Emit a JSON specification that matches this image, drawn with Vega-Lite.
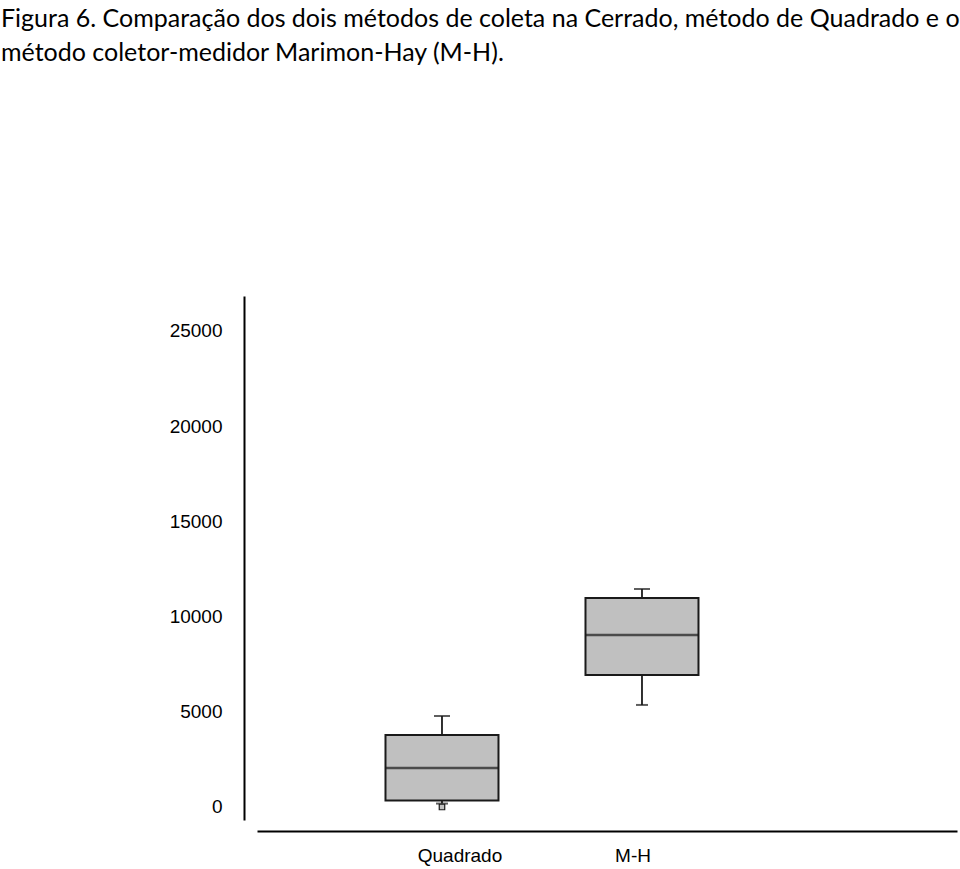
{
  "$schema": "https://vega.github.io/schema/vega-lite/v6.json",
  "autosize": {"type": "none"},
  "padding": {"left": 257, "top": 296, "right": 3, "bottom": 49},
  "width": 700,
  "height": 524,
  "background": "white",
  "title": {
    "text": ["Figura 6. Comparação dos dois métodos de coleta na Cerrado, método de Quadrado e o", "método coletor-medidor Marimon-Hay (M-H)."],
    "anchor": "start",
    "frame": "group",
    "orient": "top",
    "dx": -256,
    "offset": 230,
    "font": "Lato",
    "fontSize": 25,
    "fontWeight": "normal",
    "lineHeight": 34,
    "color": "#000000"
  },
  "config": {
    "view": {"stroke": null},
    "axis": {"grid": false}
  },
  "datasets": {
    "stats": [
      {"method": "Quadrado", "min": 180, "q1": 340, "median": 2050, "q3": 3780, "max": 4780},
      {"method": "M-H", "min": 5360, "q1": 6930, "median": 9030, "q3": 10980, "max": 11450}
    ],
    "outliers": [
      {"method": "Quadrado", "value": 0}
    ]
  },
  "layer": [
    {
      "data": {"name": "stats"},
      "mark": {"type": "rule", "color": "#1a1a1a", "strokeWidth": 1.8},
      "encoding": {
        "x": {"field": "method", "type": "nominal"},
        "y": {"field": "min", "type": "quantitative"},
        "y2": {"field": "max"}
      }
    },
    {
      "data": {"name": "stats"},
      "mark": {"type": "tick", "color": "#1a1a1a", "size": 16, "thickness": 2, "orient": "horizontal"},
      "encoding": {
        "x": {"field": "method", "type": "nominal"},
        "y": {"field": "max", "type": "quantitative"}
      }
    },
    {
      "data": {"name": "stats"},
      "mark": {"type": "tick", "color": "#1a1a1a", "size": 12, "thickness": 2, "orient": "horizontal"},
      "encoding": {
        "x": {"field": "method", "type": "nominal"},
        "y": {"field": "min", "type": "quantitative"}
      }
    },
    {
      "data": {"name": "stats"},
      "mark": {"type": "bar", "fill": "#c0c0c0", "stroke": "#1a1a1a", "strokeWidth": 2, "size": 113},
      "encoding": {
        "x": {"field": "method", "type": "nominal"},
        "y": {"field": "q1", "type": "quantitative"},
        "y2": {"field": "q3"}
      }
    },
    {
      "data": {"name": "stats"},
      "mark": {"type": "tick", "color": "#1a1a1a", "size": 113, "thickness": 2.4, "orient": "horizontal"},
      "encoding": {
        "x": {"field": "method", "type": "nominal"},
        "y": {"field": "median", "type": "quantitative"}
      }
    },
    {
      "data": {"name": "outliers"},
      "mark": {"type": "point", "shape": "square", "size": 30, "filled": true, "fill": "#c0c0c0", "stroke": "#1a1a1a", "strokeWidth": 1.2, "opacity": 1},
      "encoding": {
        "x": {"field": "method", "type": "nominal"},
        "y": {"field": "value", "type": "quantitative"}
      }
    }
  ],
  "resolve": {"scale": {"x": "shared", "y": "shared"}},
  "encoding": {
    "x": {
      "field": "method",
      "type": "nominal",
      "sort": ["Quadrado", "M-H"],
      "scale": {"type": "band", "domain": ["Quadrado", "M-H"], "paddingInner": 0, "paddingOuter": 0.75, "align": 0.2833},
      "axis": {
        "title": null,
        "labelAngle": 0,
        "ticks": false,
        "offset": 11,
        "domainColor": "#000000",
        "domainWidth": 2,
        "labelFont": "Liberation Sans",
        "labelFontSize": 19,
        "labelColor": "#000000",
        "labelPadding": 15,
        "labelBaseline": "top",
        "labelOffset": {"condition": {"test": "datum.value == 'Quadrado'", "value": 18}, "value": -9}
      }
    },
    "y": {
      "type": "quantitative",
      "scale": {"domain": [-683, 26838], "nice": false, "zero": false},
      "axis": {
        "title": null,
        "values": [0, 5000, 10000, 15000, 20000, 25000],
        "format": "d",
        "ticks": false,
        "offset": 13,
        "domainColor": "#000000",
        "domainWidth": 2,
        "labelFont": "Liberation Sans",
        "labelFontSize": 19,
        "labelColor": "#000000",
        "labelPadding": 22
      }
    }
  }
}
